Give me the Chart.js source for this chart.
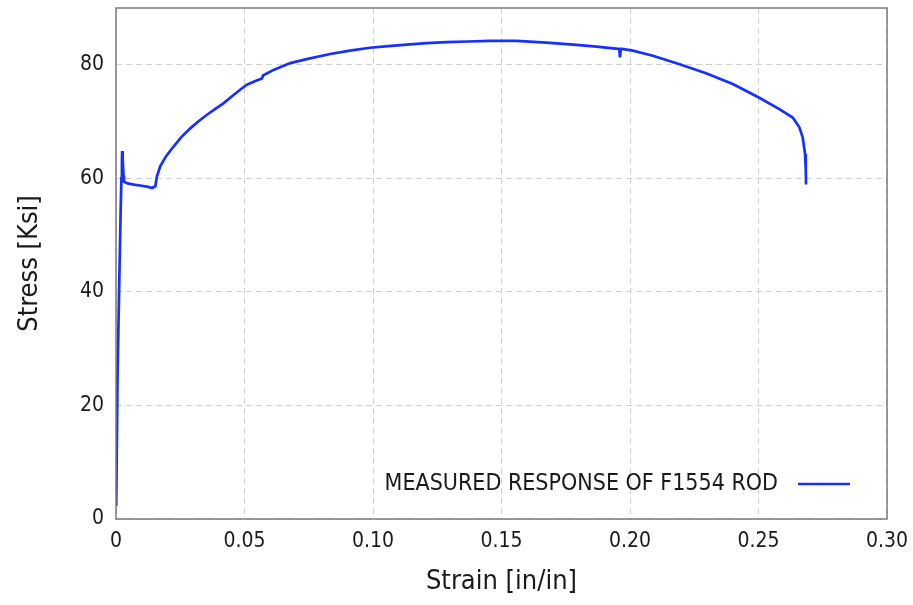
<!DOCTYPE html>
<html>
<head>
<meta charset="utf-8">
<title>Stress-strain response</title>
<script src="https://cdn.jsdelivr.net/npm/chart.js@4.4.1/dist/chart.umd.min.js"></script>
<style>
  html, body { margin: 0; padding: 0; background: #fff; }
  #wrap { width: 913px; height: 605px; position: relative; }
</style>
</head>
<body>
<div id="wrap"><canvas id="stressChart"></canvas></div>
<script>
// Measured curve (strain in in/in, stress in ksi)
const strain = [
    0.0001, 0.0006, 0.0012, 0.0018, 0.0021, 0.0023, 0.0024, 0.0026, 0.0029, 0.0031,
    0.0045, 0.0070, 0.0100, 0.0125, 0.0140, 0.0153, 0.0159, 0.0172, 0.0195, 0.0224,
    0.0255, 0.0289, 0.0320, 0.0354, 0.0385, 0.0418, 0.0450, 0.0483, 0.0509, 0.0540,
    0.0568, 0.0572, 0.0613, 0.0678, 0.0742, 0.0833, 0.0910, 0.0988, 0.1060, 0.1144,
    0.1210, 0.1286, 0.1370, 0.1455, 0.1558, 0.1675, 0.1791, 0.1870, 0.1934, 0.1958,
    0.1961, 0.1964, 0.1968, 0.2011, 0.2089, 0.2193, 0.2296, 0.2400, 0.2503, 0.2581,
    0.2633, 0.2659, 0.2672, 0.2681, 0.2684, 0.2685
];
const stress = [
    2.3, 25.0, 40.0, 54.0, 60.0, 63.0, 64.8, 63.5, 60.5, 59.4,
    59.1, 58.9, 58.7, 58.5, 58.3, 58.6, 60.3, 62.1, 63.9, 65.6,
    67.3, 68.8, 70.0, 71.2, 72.2, 73.2, 74.4, 75.6, 76.5, 77.1,
    77.6, 78.1, 79.1, 80.3, 81.0, 81.9, 82.5, 83.0, 83.3, 83.6,
    83.8, 84.0, 84.1, 84.2, 84.2, 83.9, 83.5, 83.2, 82.9, 82.8,
    81.3, 82.8, 82.8, 82.5, 81.6, 80.1, 78.5, 76.6, 74.2, 72.2,
    70.7, 69.0, 67.2, 64.3, 61.5, 58.9
];
const seriesLabel = 'MEASURED RESPONSE OF F1554 ROD';
const xTicks = [0, 0.05, 0.10, 0.15, 0.20, 0.25, 0.30];
const yTicks = [0, 20, 40, 60, 80];

const FONT = "'DejaVu Sans Condensed', 'DejaVu Sans', sans-serif";
const LINE_BLUE = '#1530ff';

const points = strain.map((s, i) => ({ x: s, y: stress[i] }));

// frame round the plot area plus the legend in its lower right corner
const frameAndLegend = {
    id: 'frameAndLegend',
    afterDatasetsDraw(chart) {
        const { ctx, chartArea: a } = chart;
        ctx.save();
        ctx.strokeStyle = '#7a7a7a';
        ctx.lineWidth = 1.5;
        ctx.strokeRect(a.left, a.top, a.right - a.left, a.bottom - a.top);

        const y = a.bottom - 35;
        const lineEnd = a.right - 37;
        const lineStart = lineEnd - 52;
        ctx.strokeStyle = LINE_BLUE;
        ctx.lineWidth = 2.5;
        ctx.beginPath();
        ctx.moveTo(lineStart, y);
        ctx.lineTo(lineEnd, y);
        ctx.stroke();

        ctx.fillStyle = '#1a1a1a';
        ctx.font = '23px ' + FONT;
        ctx.textAlign = 'right';
        ctx.textBaseline = 'middle';
        ctx.fillText(chart.data.datasets[0].label, lineStart - 20, y);
        ctx.restore();
    }
};

// fixed axis sizes, and no extra room for labels sitting on the edges
function fitX(scale) {
    scale.height = 86;
    scale.paddingLeft = 0;
    scale.paddingRight = 0;
}
function fitY(scale) {
    scale.width = 116;
    scale.paddingTop = 0;
    scale.paddingBottom = 0;
}

function initializeChart() {
    const ctx = document.getElementById('stressChart').getContext('2d');

    new Chart(ctx, {
        type: 'scatter',
        data: {
            datasets: [{
                label: seriesLabel,
                data: points,
                showLine: true,
                borderColor: LINE_BLUE,
                borderWidth: 2.7,
                pointRadius: 0,
                tension: 0
            }]
        },
        options: {
            responsive: true,
            maintainAspectRatio: false,
            animation: false,
            layout: { padding: { top: 8, right: 26, bottom: 0, left: 0 } },
            plugins: {
                legend: { display: false },
                tooltip: { enabled: false }
            },
            scales: {
                x: {
                    type: 'linear',
                    min: 0,
                    max: 0.30,
                    afterBuildTicks: scale => { scale.ticks = xTicks.map(v => ({ value: v })); },
                    afterFit: fitX,
                    ticks: {
                        color: '#1a1a1a',
                        font: { family: FONT, size: 21 },
                        padding: 10,
                        maxRotation: 0,
                        callback: v => v === 0 ? '0' : v.toFixed(2)
                    },
                    grid: {
                        color: '#cfcfcf',
                        lineWidth: 1,
                        drawTicks: false
                    },
                    border: { display: false, dash: [6, 4] },
                    title: {
                        display: true,
                        text: 'Strain [in/in]',
                        color: '#1a1a1a',
                        font: { family: FONT, size: 27 },
                        padding: { top: 0, bottom: 7 }
                    }
                },
                y: {
                    type: 'linear',
                    min: 0,
                    max: 90,
                    afterBuildTicks: scale => { scale.ticks = yTicks.map(v => ({ value: v })); },
                    afterFit: fitY,
                    ticks: {
                        color: '#1a1a1a',
                        font: { family: FONT, size: 21 },
                        padding: 12
                    },
                    grid: {
                        color: '#cfcfcf',
                        lineWidth: 1,
                        drawTicks: false
                    },
                    border: { display: false, dash: [6, 4] },
                    title: {
                        display: true,
                        text: 'Stress [Ksi]',
                        color: '#1a1a1a',
                        font: { family: FONT, size: 27 },
                        padding: { top: 14, bottom: 0 }
                    }
                }
            }
        },
        plugins: [frameAndLegend]
    });
}

document.addEventListener('DOMContentLoaded', initializeChart);
</script>
</body>
</html>
